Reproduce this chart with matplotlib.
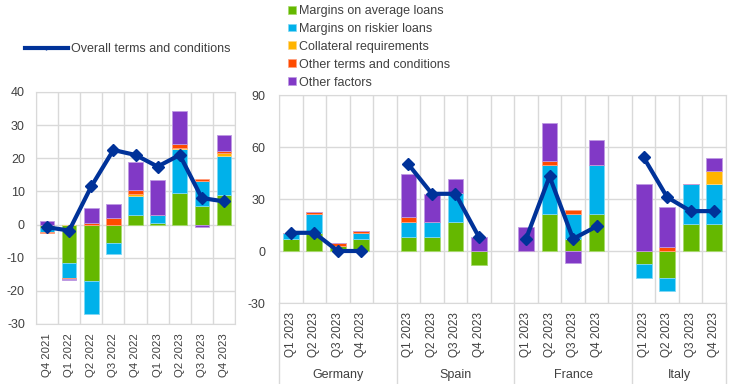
import numpy as np
import matplotlib
matplotlib.use("Agg")
import matplotlib.pyplot as plt
from matplotlib.lines import Line2D
from matplotlib.patches import Patch

plt.rcParams['font.family'] = ['Liberation Sans', 'DejaVu Sans']
plt.rcParams['axes.unicode_minus'] = False

# ---------------- data ----------------
series_names = ["Margins on average loans", "Margins on riskier loans",
                "Collateral requirements", "Other terms and conditions", "Other factors"]
line_name = "Overall terms and conditions"

left_quarters = ["Q4 2021", "Q1 2022", "Q2 2022", "Q3 2022", "Q4 2022",
                 "Q1 2023", "Q2 2023", "Q3 2023", "Q4 2023"]
left_avg = [-1.0, -11.5, -17.0, -5.5, 3.0, 0.5, 9.5, 5.5, 9.0]
left_risk = [-1.3, -4.5, -10.0, -3.5, 5.5, 2.5, 13.2, 7.5, 11.8]
left_coll = [0.0, 0.0, 0.0, 0.0, 0.8, 0.0, 0.3, 0.0, 0.7]
left_other_tc = [-0.3, -0.3, 0.5, 2.0, 1.2, 0.0, 1.2, 0.8, 0.7]
left_other_f = [1.0, -0.3, 4.5, 4.2, 8.5, 10.5, 10.0, -0.8, 4.8]
left_overall = [-0.8, -1.8, 11.5, 22.5, 21.0, 17.5, 21.0, 8.0, 7.0]

countries = ["Germany", "Spain", "France", "Italy"]
right_quarters = ["Q1 2023", "Q2 2023", "Q3 2023", "Q4 2023"]
right_avg = [7.0, 10.2, 3.1, 7.0,   8.3, 8.3, 16.7, -8.3,   0.0, 21.5, 6.9, 21.5,   -7.7, -15.4, 15.4, 15.4]
right_risk = [3.6, 11.3, 0.0, 3.6,  8.2, 8.2, 16.6, 0.0,    0.0, 28.1, 14.6, 28.0,  -7.7, -7.7, 23.0, 23.0]
right_coll = [0.0, 0.0, 0.0, 0.0,   0.0, 0.0, 0.0, 0.0,     0.0, 0.0, 0.0, 0.0,     0.0, 0.0, 0.0, 7.7]
right_other_tc = [0.0, 1.0, 1.5, 1.0, 2.9, 0.0, 0.0, 0.0,   0.0, 2.5, 2.0, 0.0,     0.0, 2.5, 0.0, 0.0]
right_other_f = [0.0, 0.0, 0.0, 0.0, 25.0, 16.5, 8.2, 8.3, 14.0, 21.6, -7.1, 14.5,  38.4, 23.1, 0.0, 7.6]
right_overall = [10.5, 10.5, 0.0, 0.0, 50.0, 33.0, 33.0, 8.0, 7.0, 43.0, 7.0, 14.2, 54.0, 31.0, 23.0, 23.0]

colors = ["#65B800", "#00B1EA", "#FFB400", "#FF4B00", "#8139C6"]
edge_colors = ["#A8DA6E", "#7FD8F4", "#FFD67F", "#FF9F7F", "#BE9AE2"]
line_color = "#003299"
grid_color = "#D9D9D9"
text_color = "#404040"

fig = plt.figure(figsize=(7.44, 3.84), dpi=100)


def stacked(ax, x, series, width):
    pos = np.zeros(len(x))
    neg = np.zeros(len(x))
    for vals, c, ec in zip(series, colors, edge_colors):
        v = np.array(vals, dtype=float)
        b = np.where(v >= 0, pos, neg)
        ax.bar(x, v, width, bottom=b, color=c, edgecolor=ec, linewidth=0.6, zorder=2)
        pos = pos + np.where(v > 0, v, 0)
        neg = neg + np.where(v < 0, v, 0)


def style(ax):
    for s in ax.spines.values():
        s.set_color(grid_color)
    ax.tick_params(axis='both', length=0, colors=text_color, labelsize=9)
    ax.grid(axis='y', color=grid_color, linewidth=1, zorder=0)
    ax.set_axisbelow(True)


# ---------------- left panel ----------------
axL = fig.add_axes([36 / 744, 1 - 324 / 384, 199 / 744, 232 / 384])
xL = np.arange(len(left_quarters))
stacked(axL, xL, [left_avg, left_risk, left_coll, left_other_tc, left_other_f], 0.66)
axL.plot(xL, left_overall, color=line_color, linewidth=3, marker='D', markersize=6, zorder=4)
axL.set_xlim(-0.5, len(xL) - 0.5)
axL.set_ylim(-30, 40)
axL.set_yticks(np.arange(-30, 41, 10))
axL.set_xticks(xL)
axL.set_xticklabels(left_quarters, rotation=90)
for b in np.arange(-0.5, len(xL), 1.0):
    axL.axvline(b, color=grid_color, linewidth=1, zorder=0)
style(axL)
axL.tick_params(axis='x', pad=6.5, labelsize=8.2)
axL.tick_params(axis='y', pad=8)

# ---------------- right panel ----------------
axR = fig.add_axes([279 / 744, 1 - 303 / 384, 447 / 744, 208 / 384])
xR = np.array([g * 5 + q for g in range(len(countries)) for q in range(len(right_quarters))])
n_slots = len(countries) * 5 - 1
ov = np.array(right_overall)
stacked(axR, xR, [right_avg, right_risk, right_coll, right_other_tc, right_other_f], 0.67)
for g in range(len(countries)):
    sl = slice(g * 4, g * 4 + 4)
    axR.plot(xR[sl], ov[sl], color=line_color, linewidth=3, marker='D', markersize=6, zorder=4)
axR.set_xlim(-0.5, n_slots - 0.5)
axR.set_ylim(-30, 90)
axR.set_yticks(np.arange(-30, 91, 30))
axR.set_xticks(xR)
axR.set_xticklabels(right_quarters * len(countries), rotation=90)
for b in np.arange(-0.5, n_slots, 1.0):
    axR.axvline(b, color=grid_color, linewidth=1, zorder=0)
style(axR)
axR.tick_params(axis='x', pad=6.5, labelsize=8.5)
axR.tick_params(axis='y', pad=10)

trans = axR.get_xaxis_transform()
for b in [-0.5, 4.5, 9.5, 14.5, n_slots - 0.5]:
    axR.plot([b, b], [0, -0.4], transform=trans, color=grid_color, linewidth=1, clip_on=False)
for g, name in enumerate(countries):
    end = g * 5 + 4.5 if g < len(countries) - 1 else n_slots - 0.5
    axR.text((g * 5 - 0.5 + end) / 2, -0.345, name, transform=trans, ha='center', va='center',
             fontsize=9, color=text_color)

# ---------------- legends ----------------
lh = [Line2D([0], [0], color=line_color, linewidth=3, marker='|', markersize=3)]
fig.legend(handles=lh, labels=[line_name], loc='center left', bbox_to_anchor=(25 / 744, 1 - 49 / 384),
           frameon=False, fontsize=9, handlelength=3.4, handletextpad=0.3, borderpad=0,
           borderaxespad=0, labelcolor=text_color)

ph = [Patch(facecolor=c, edgecolor=ec, linewidth=0.5) for c, ec in zip(colors, edge_colors)]
fig.legend(handles=ph, labels=series_names, loc='upper left', bbox_to_anchor=(283 / 744, 1.0),
           frameon=False, fontsize=9, handlelength=0.6, handleheight=0.6, handletextpad=0.3,
           labelspacing=0.47, borderaxespad=0.0, labelcolor=text_color)

fig.savefig("out.png", dpi=100)
